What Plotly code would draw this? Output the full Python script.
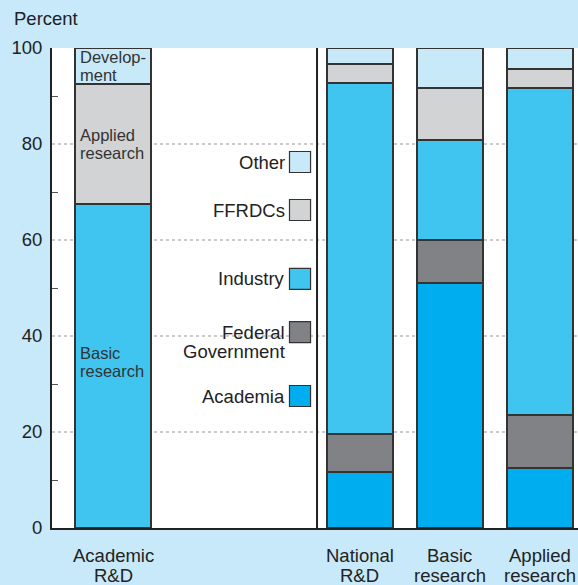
import plotly.graph_objects as go

# categories along the x axis
categories = ["Academic<br>R&D", "National<br>R&D", "Basic<br>research", "Applied<br>research"]

# academic R&D split by character of work (percent)
academic_parts = ["Basic<br>research", "Applied<br>research", "Develop-<br>ment"]
academic_vals = [67.5, 25.0, 7.5]

# performer shares (percent), bottom to top
sectors = ["Academia", "Federal<br>Government", "Industry", "FFRDCs", "Other"]
national_rd = [11.7, 7.9, 73.1, 4.0, 3.3]
basic_research = [51.0, 9.0, 20.8, 10.9, 8.3]
applied_research = [12.5, 11.0, 68.2, 3.9, 4.4]

sector_colors = ["#00aeef", "#808285", "#3fc5f0", "#d1d3d4", "#c7e9f8"]
academic_colors = ["#3fc5f0", "#d1d3d4", "#c7e9f8"]

xpos = [0, 2.744, 3.744, 4.744]
line = dict(color="#333333", width=1.5)
font = "Liberation Sans, Arial, sans-serif"
FS = 18.5

fig = go.Figure()

# academic R&D stacked bar
for part, val, col in zip(academic_parts, academic_vals, academic_colors):
    fig.add_trace(go.Bar(x=[xpos[0]], y=[val], width=0.844, marker=dict(color=col, line=line),
                         showlegend=False, hoverinfo="skip"))

# performer stacked bars
perf = [national_rd, basic_research, applied_research]
for i, sec in enumerate(sectors):
    fig.add_trace(go.Bar(x=xpos[1:], y=[p[i] for p in perf], width=0.733,
                         marker=dict(color=sector_colors[i], line=line),
                         showlegend=False, hoverinfo="skip"))

annotations = []


def multiline(text, x, y, dy, **kw):
    # one annotation per line so the line spacing can be set
    lines = text.split("<br>")
    n = len(lines)
    for k, ln in enumerate(lines):
        a = dict(x=x, y=y, text=ln, showarrow=False, **kw)
        a["yshift"] = a.get("yshift", 0) + ((n - 1) / 2 - k) * dy
        annotations.append(a)


# labels inside academic bar
base = 0
for part, val in zip(academic_parts, academic_vals):
    lift = 4 if base == 0 else 0
    multiline(part, xpos[0] - 0.422, base + val / 2, 18, xanchor="left", yanchor="middle",
              xshift=3, yshift=lift, font=dict(size=16.5, color="#333333", family=font))
    base += val

# category labels under axis
for x, c in zip(xpos, categories):
    for k, ln in enumerate(c.split("<br>")):
        annotations.append(dict(x=x, y=0, yref="paper", text=ln, showarrow=False,
                                yanchor="middle", yshift=-27 - 20 * k,
                                font=dict(size=FS, color="#222222", family=font)))

# manual legend
shapes = []
leg_y = [27.5, 40.8, 51.9, 66.25, 76.25]
for sec, col, y in zip(sectors, sector_colors, leg_y):
    shapes.append(dict(type="rect", x0=2.078 - 0.117, x1=2.078 + 0.117, y0=y - 2.19, y1=y + 2.19,
                       fillcolor=col, line=dict(color="#333333", width=1.2)))
    if "Federal" in sec:
        multiline(sec, 1.93, y - 2.0, 19, xanchor="right", yanchor="middle",
                  font=dict(size=FS, color="#222222", family=font))
    else:
        annotations.append(dict(x=1.93, y=y, text=sec, showarrow=False, xanchor="right",
                                yanchor="middle", font=dict(size=FS, color="#222222", family=font)))

# dotted gridlines
for g in [20, 40, 60, 80]:
    shapes.append(dict(type="line", xref="paper", x0=0, x1=1, y0=g, y1=g, layer="below",
                       line=dict(color="#999999", width=1, dash="dot")))

# separator
shapes.append(dict(type="line", x0=2.267, x1=2.267, y0=0, y1=100,
                   line=dict(color="#222222", width=2)))

annotations.append(dict(x=-0.076, y=1.0625, xref="paper", yref="paper", text="Percent",
                        showarrow=False, xanchor="left", yanchor="middle",
                        font=dict(size=FS, color="#222222", family=font)))

fig.update_layout(
    barmode="stack",
    width=578, height=585,
    margin=dict(l=52, r=0, t=48, b=57),
    paper_bgcolor="#c8e9f9",
    plot_bgcolor="#ffffff",
    font=dict(family=font, size=FS, color="#222222"),
    annotations=annotations,
    shapes=shapes,
    xaxis=dict(range=[-0.678, 5.167], showticklabels=False, showgrid=False, zeroline=False,
               showline=True, linecolor="#222222", linewidth=2, ticks=""),
    yaxis=dict(range=[0, 100], tickvals=[0, 20, 40, 60, 80, 100], showgrid=False, zeroline=False,
               showline=True, linecolor="#222222", linewidth=2, ticks="", ticklabelstandoff=4,
               tickfont=dict(size=FS, color="#222222"),
               minor=dict(tickvals=[10, 30, 50, 70, 90], ticks="inside", ticklen=6,
                          tickcolor="#555555", showgrid=False)),
)

fig.write_html("out.html", config={"displayModeBar": False},
               post_script="document.body.style.margin='0';")
